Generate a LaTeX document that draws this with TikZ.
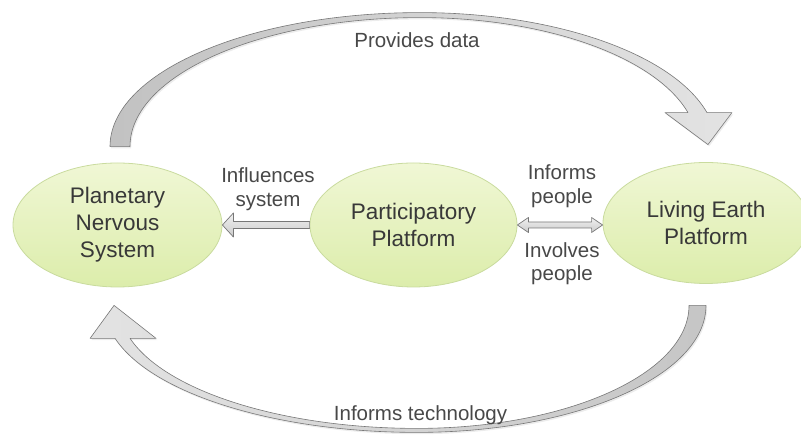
\documentclass[tikz,border=0pt]{standalone}
\usepackage{fontspec}
\setmainfont{Liberation Sans}
\usetikzlibrary{shapes.geometric,calc,shadows}
\definecolor{ellTop}{HTML}{F0F7D5}
\definecolor{ellBot}{HTML}{DCEDAB}
\definecolor{ellLine}{HTML}{C9DB9E}
\definecolor{txt}{HTML}{383838}
\definecolor{lbltxt}{HTML}{484848}
\definecolor{arrLine}{HTML}{777777}
\begin{document}
\begin{tikzpicture}[x=1pt,y=1pt,
  ell/.style={ellipse, inner sep=0pt, draw=ellLine, line width=0.8pt,
    top color=ellTop, bottom color=ellBot, align=center, text=txt,
    font=\fontsize{22.5}{27}\selectfont},
  lbl/.style={align=center, text=lbltxt, inner sep=0pt,
    font=\fontsize{20.5}{23.5}\selectfont},
  bigarrow/.style={draw=arrLine, line width=0.6pt, line join=round,
    drop shadow={opacity=0.15, shadow xshift=1.2pt, shadow yshift=-1.8pt}},
  smallarrow/.style={draw=arrLine, line width=0.7pt, line join=round,
    top color=gray!12, bottom color=gray!40}
]
\useasboundingbox (0,0) rectangle (801,435);

% nodes
\node[ell, minimum width=209pt, minimum height=124pt] (pns) at (117.5,210)
  {Planetary\\Nervous\\System};
\node[ell, minimum width=207pt, minimum height=124pt] (pp) at (413.5,210)
  {Participatory\\Platform};
\node[ell, minimum width=206pt, minimum height=121pt] (leb) at (706,212)
  {Living Earth\\Platform};

% top curved arrow: Provides data
\path[bigarrow, left color=gray!48, right color=gray!22]
  ($(pns.north)+(-7.5,16)$)
  arc[start angle=180, end angle=90, x radius=310pt, y radius=134pt]
  arc[start angle=90, end angle=14.70, x radius=296.7pt, y radius=134pt]
  -- ++(25,0) -- ++(-24,-32) -- ++(-43,32) -- ++(23,0)
  arc[start angle=15.28, end angle=90, x radius=277.8pt, y radius=129pt]
  arc[start angle=90, end angle=180, x radius=290pt, y radius=129pt]
  -- cycle;

% bottom curved arrow: Informs technology
\path[bigarrow, left color=gray!22, right color=gray!45]
  ($(leb.south)+(0,-21.5)$)
  arc[start angle=0, end angle=-90, x radius=289pt, y radius=127pt]
  arc[start angle=-90, end angle=-164.94, x radius=312.7pt, y radius=127pt]
  -- ++(-25,0) -- ++(24,33) -- ++(42,-33) -- ++(-26,0)
  arc[start angle=-164.44, end angle=-90, x radius=297.9pt, y radius=123pt]
  arc[start angle=-90, end angle=0, x radius=272pt, y radius=123pt]
  -- cycle;

% Influences system arrow (pp -> pns)
\path[smallarrow]
  ($(pp.west)+(0,3.5)$) -- ($(pns.east)+(11,3.5)$) -- ($(pns.east)+(11,12)$)
  -- (pns.east) -- ($(pns.east)+(11,-12)$) -- ($(pns.east)+(11,-3.5)$)
  -- ($(pp.west)+(0,-3.5)$) -- cycle;

% double arrow pp <-> leb
\coordinate (dr) at (pp.east -| leb.west);
\path[smallarrow]
  (pp.east) -- ($(pp.east)+(11,7.5)$) -- ($(pp.east)+(11,3)$)
  -- ($(dr)+(-11,3)$) -- ($(dr)+(-11,7.5)$) -- (dr)
  -- ($(dr)+(-11,-7.5)$) -- ($(dr)+(-11,-3)$) -- ($(pp.east)+(11,-3)$)
  -- ($(pp.east)+(11,-7.5)$) -- cycle;

% labels
\node[lbl] (l1) at (268,246) {Influences\\system};
\node[lbl] (l2) at (562,249) {Informs\\people};
\node[lbl] (l3) at (562,171.5) {Involves\\people};
\node[lbl, anchor=base] (l4) at (417,387) {Provides data};
\node[lbl, anchor=base] (l5) at (420.5,14) {Informs technology};
\end{tikzpicture}
\end{document}
